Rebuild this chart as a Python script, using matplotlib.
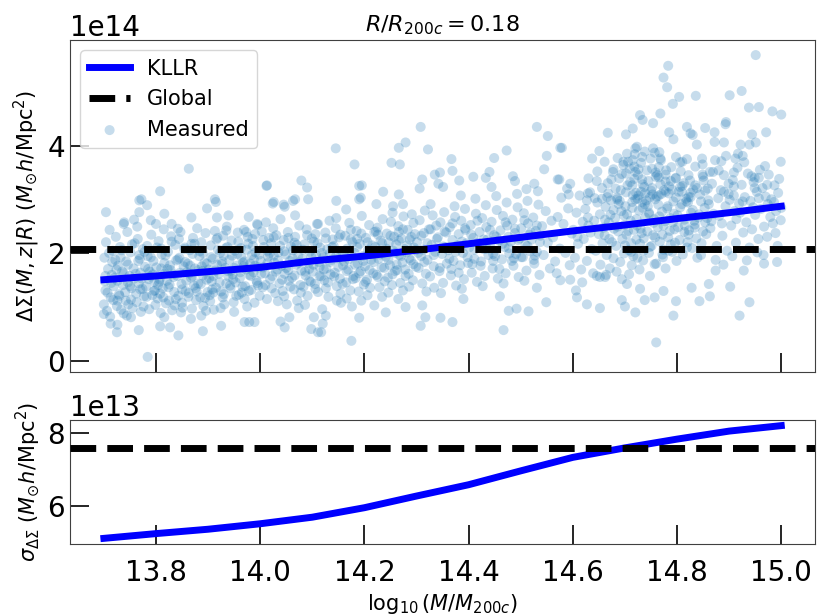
import numpy as np
import matplotlib.pyplot as plt
from matplotlib.ticker import MultipleLocator

# KLLR fit evaluated on the mass grid (Delta Sigma in 1e14, scatter in 1e13)
kllr_mass = [13.7, 13.8, 13.9, 14.0, 14.1, 14.2, 14.3, 14.4, 14.5, 14.6, 14.7, 14.8, 14.9, 15.0]
kllr_mean = [1.51, 1.58, 1.66, 1.74, 1.86, 1.95, 2.06, 2.18, 2.30, 2.42, 2.53, 2.65, 2.76, 2.88]
kllr_sigma = [5.12, 5.25, 5.37, 5.52, 5.70, 5.96, 6.28, 6.59, 6.97, 7.34, 7.60, 7.84, 8.06, 8.21]

# global (mass independent) mean and scatter
global_mean = 2.09
global_sigma = 7.61

# measured clusters: (log10 M, Delta Sigma / 1e14)
dsig_lowmass = [
    (13.700, 1.05), (13.702, 1.48), (13.701, 1.92), (13.704, 2.21), (13.703, 1.31), (13.706, 0.93), (13.708, 1.71),
    (13.711, 2.44), (13.713, 1.18), (13.715, 1.60), (13.717, 2.05), (13.712, 0.82), (13.719, 1.39), (13.716, 1.84),
    (13.721, 1.55), (13.723, 2.31), (13.725, 1.02), (13.727, 1.77), (13.729, 1.24), (13.731, 2.12), (13.733, 0.95),
    (13.735, 1.66), (13.737, 1.41), (13.739, 2.58), (13.732, 1.93), (13.726, 1.12), (13.738, 0.88), (13.724, 1.70),
    (13.741, 1.28), (13.743, 1.85), (13.745, 2.40), (13.747, 1.05), (13.749, 1.58), (13.751, 2.02), (13.753, 1.35),
    (13.755, 0.98), (13.757, 1.72), (13.759, 2.19), (13.746, 1.46), (13.752, 1.14), (13.758, 2.63), (13.744, 0.84),
    (13.761, 1.62), (13.763, 1.09), (13.765, 2.27), (13.767, 1.44), (13.769, 1.90), (13.771, 0.91), (13.773, 1.53),
    (13.775, 2.08), (13.777, 1.20), (13.779, 1.75), (13.764, 2.50), (13.770, 1.33), (13.776, 1.01), (13.768, 1.97),
    (13.781, 1.38), (13.783, 2.14), (13.785, 1.71), (13.787, 0.96), (13.789, 1.57), (13.791, 2.35), (13.793, 1.22),
    (13.795, 1.86), (13.797, 1.47), (13.799, 1.04), (13.784, 1.95), (13.790, 2.62), (13.796, 1.30), (13.788, 1.66),
    (13.801, 1.74), (13.803, 1.16), (13.805, 2.23), (13.807, 1.52), (13.809, 0.89), (13.811, 1.98), (13.813, 1.35),
    (13.815, 2.45), (13.817, 1.63), (13.819, 1.07), (13.804, 1.41), (13.810, 2.09), (13.816, 1.82), (13.808, 1.25),
    (13.821, 1.49), (13.823, 2.03), (13.825, 1.12), (13.827, 1.78), (13.829, 2.32), (13.831, 0.94), (13.833, 1.61),
    (13.835, 1.28), (13.837, 2.16), (13.839, 1.87), (13.824, 1.37), (13.830, 2.55), (13.836, 1.03), (13.828, 1.69),
    (13.841, 1.58), (13.843, 1.21), (13.845, 1.92), (13.847, 2.40), (13.849, 1.43), (13.851, 0.99), (13.853, 1.76),
    (13.855, 2.11), (13.857, 1.30), (13.859, 1.65), (13.844, 2.27), (13.850, 1.08), (13.856, 1.84), (13.848, 0.90),
    (13.861, 1.81), (13.863, 1.26), (13.865, 2.06), (13.867, 1.55), (13.869, 0.97), (13.871, 2.29), (13.873, 1.40),
    (13.875, 1.72), (13.877, 1.13), (13.879, 2.47), (13.864, 1.63), (13.870, 1.99), (13.876, 1.35), (13.868, 2.18),
    (13.881, 1.44), (13.883, 1.95), (13.885, 1.18), (13.887, 2.21), (13.889, 1.67), (13.891, 1.02), (13.893, 1.83),
    (13.895, 2.38), (13.897, 1.51), (13.899, 1.28), (13.884, 2.04), (13.890, 1.59), (13.896, 0.93), (13.888, 1.76),
    (13.901, 1.70), (13.903, 1.22), (13.905, 2.15), (13.907, 1.48), (13.909, 1.90), (13.911, 0.95), (13.913, 2.42),
    (13.915, 1.36), (13.917, 1.79), (13.919, 2.07), (13.904, 1.11), (13.910, 1.58), (13.916, 2.26), (13.908, 1.33),
    (13.921, 1.62), (13.923, 2.01), (13.925, 1.29), (13.927, 1.85), (13.929, 2.33), (13.931, 1.05), (13.933, 1.73),
    (13.935, 1.44), (13.937, 2.12), (13.939, 1.57), (13.924, 0.98), (13.930, 1.96), (13.936, 2.50), (13.928, 1.18),
    (13.941, 1.88), (13.943, 1.35), (13.945, 2.24), (13.947, 1.61), (13.949, 1.09), (13.951, 2.05), (13.953, 1.46),
    (13.955, 1.77), (13.957, 2.39), (13.959, 1.23), (13.944, 1.68), (13.950, 0.91), (13.956, 1.99), (13.948, 1.52),
    (13.961, 1.54), (13.963, 2.10), (13.965, 1.27), (13.967, 1.83), (13.969, 2.44), (13.971, 1.39), (13.973, 1.70),
    (13.975, 1.01), (13.977, 2.18), (13.979, 1.60), (13.964, 1.93), (13.970, 1.15), (13.976, 2.31), (13.968, 1.76),
    (13.981, 1.81), (13.983, 1.32), (13.985, 2.27), (13.987, 1.65), (13.989, 1.08), (13.991, 2.02), (13.993, 1.49),
    (13.995, 2.53), (13.997, 1.74), (13.999, 1.21), (13.984, 1.97), (13.990, 2.36), (13.996, 1.40), (13.988, 1.89),
]

dsig_midmass = [
    (14.001, 1.86), (14.003, 2.41), (14.005, 1.37), (14.007, 2.12), (14.009, 1.63), (14.011, 2.58), (14.013, 1.15),
    (14.015, 1.94), (14.017, 2.29), (14.019, 1.52), (14.006, 1.74), (14.014, 2.05),
    (14.021, 2.19), (14.023, 1.58), (14.025, 2.47), (14.027, 1.83), (14.029, 1.26), (14.031, 2.34), (14.033, 1.70),
    (14.035, 2.02), (14.037, 1.44), (14.039, 2.64), (14.026, 1.96), (14.034, 1.11),
    (14.041, 1.77), (14.043, 1.30), (14.045, 2.25), (14.047, 1.62), (14.049, 1.98), (14.051, 1.05), (14.053, 2.40),
    (14.055, 1.49), (14.057, 1.86), (14.059, 2.13), (14.046, 1.20), (14.054, 1.69),
    (14.061, 1.55), (14.063, 2.06), (14.065, 1.33), (14.067, 2.31), (14.069, 1.79), (14.071, 1.12), (14.073, 1.95),
    (14.075, 2.52), (14.077, 1.41), (14.079, 1.68), (14.066, 2.20), (14.074, 0.98),
    (14.081, 1.90), (14.083, 1.38), (14.085, 2.17), (14.087, 1.59), (14.089, 2.45), (14.091, 1.21), (14.093, 1.82),
    (14.095, 2.03), (14.097, 1.47), (14.099, 2.28), (14.086, 1.04), (14.094, 1.71),
    (14.101, 1.66), (14.103, 2.22), (14.105, 1.43), (14.107, 1.97), (14.109, 2.55), (14.111, 1.28), (14.113, 1.84),
    (14.115, 2.11), (14.117, 1.57), (14.119, 0.96), (14.106, 2.36), (14.114, 1.75),
    (14.121, 1.93), (14.123, 1.50), (14.125, 2.39), (14.127, 1.72), (14.129, 2.08), (14.131, 1.19), (14.133, 2.61),
    (14.135, 1.61), (14.137, 1.88), (14.139, 2.26), (14.126, 1.35), (14.134, 2.00),
    (14.141, 2.14), (14.143, 1.64), (14.145, 2.47), (14.147, 1.39), (14.149, 1.91), (14.151, 2.30), (14.153, 1.53),
    (14.155, 1.08), (14.157, 2.04), (14.159, 1.78), (14.146, 2.66), (14.154, 1.25),
    (14.161, 1.85), (14.163, 2.33), (14.165, 1.46), (14.167, 2.09), (14.169, 1.70), (14.171, 2.57), (14.173, 1.31),
    (14.175, 1.97), (14.177, 2.21), (14.179, 1.58), (14.166, 1.16), (14.174, 2.44),
    (14.181, 2.01), (14.183, 1.54), (14.185, 2.42), (14.187, 1.81), (14.189, 1.29), (14.191, 2.18), (14.193, 1.67),
    (14.195, 2.70), (14.197, 1.95), (14.199, 1.42), (14.186, 2.27), (14.194, 1.12),
    (14.201, 1.76), (14.203, 2.29), (14.205, 1.51), (14.207, 2.06), (14.209, 2.53), (14.211, 1.36), (14.213, 1.88),
    (14.215, 2.15), (14.217, 1.63), (14.219, 2.40), (14.206, 1.22), (14.214, 1.99),
    (14.221, 2.12), (14.223, 1.60), (14.225, 2.48), (14.227, 1.90), (14.229, 1.37), (14.231, 2.24), (14.233, 1.74),
    (14.235, 2.64), (14.237, 2.01), (14.239, 1.48), (14.226, 2.35), (14.234, 1.19),
    (14.241, 1.94), (14.243, 2.37), (14.245, 1.55), (14.247, 2.20), (14.249, 1.78), (14.251, 2.59), (14.253, 1.41),
    (14.255, 2.05), (14.257, 2.31), (14.259, 1.67), (14.246, 1.27), (14.254, 2.76),
    (14.261, 2.17), (14.263, 1.69), (14.265, 2.51), (14.267, 1.97), (14.269, 1.45), (14.271, 2.28), (14.273, 1.83),
    (14.275, 2.69), (14.277, 2.08), (14.279, 1.58), (14.266, 2.40), (14.274, 1.31),
    (14.281, 2.02), (14.283, 2.44), (14.285, 1.62), (14.287, 2.26), (14.289, 1.87), (14.291, 2.73), (14.293, 1.50),
    (14.295, 2.11), (14.297, 2.36), (14.299, 1.75), (14.286, 1.38), (14.294, 2.57),
]

# second pass over the crowded band below the global mean
dsig_band = [
    (13.703, 1.58), (13.707, 1.27), (13.710, 2.01), (13.714, 1.45), (13.718, 1.13), (13.722, 1.88), (13.726, 1.49),
    (13.730, 1.21), (13.734, 2.06), (13.738, 1.63), (13.742, 1.12), (13.746, 1.79), (13.750, 1.39), (13.754, 2.17),
    (13.758, 1.53), (13.762, 1.25), (13.766, 1.86), (13.770, 1.64), (13.774, 1.34), (13.778, 2.03), (13.782, 1.19),
    (13.786, 1.52), (13.790, 1.93), (13.794, 1.61), (13.798, 1.31), (13.802, 2.11), (13.806, 1.47), (13.810, 1.72),
    (13.814, 1.18), (13.818, 1.96), (13.822, 1.71), (13.826, 1.42), (13.830, 2.22), (13.834, 1.56), (13.838, 1.15),
    (13.842, 1.89), (13.846, 1.64), (13.850, 1.33), (13.854, 2.08), (13.858, 1.49), (13.862, 1.19), (13.866, 1.77),
    (13.870, 1.58), (13.874, 2.18), (13.878, 1.29), (13.882, 1.69), (13.886, 1.43), (13.890, 2.01), (13.894, 1.17),
    (13.898, 1.81), (13.902, 1.54), (13.906, 1.93), (13.910, 1.27), (13.914, 1.68), (13.918, 2.29), (13.922, 1.46),
    (13.926, 1.80), (13.930, 1.24), (13.934, 2.10), (13.938, 1.67), (13.942, 1.40), (13.946, 1.96), (13.950, 1.73),
    (13.954, 1.21), (13.958, 2.22), (13.962, 1.65), (13.966, 1.38), (13.970, 1.85), (13.974, 2.07), (13.978, 1.30),
    (13.982, 1.58), (13.986, 2.14), (13.990, 1.77), (13.994, 1.45), (13.998, 1.98), (14.002, 1.62), (14.006, 2.25),
    (14.010, 1.41), (14.014, 1.82), (14.018, 2.00), (14.022, 1.35), (14.026, 2.30), (14.030, 1.66), (14.034, 1.87),
    (14.038, 2.14), (14.042, 1.51), (14.046, 2.04), (14.050, 1.73), (14.054, 2.29), (14.058, 1.38), (14.062, 1.91),
    (14.066, 1.59), (14.070, 2.16), (14.074, 1.83), (14.078, 1.27), (14.082, 2.07), (14.086, 1.66), (14.090, 2.34),
    (14.094, 1.49), (14.098, 1.94), (14.102, 1.79), (14.106, 1.34), (14.110, 2.19), (14.114, 1.58), (14.118, 2.01),
    (14.122, 1.70), (14.126, 2.28), (14.130, 1.46), (14.134, 1.84), (14.138, 2.12), (14.142, 1.57), (14.146, 1.96),
    (14.150, 1.75), (14.154, 2.35), (14.158, 1.43), (14.162, 2.05), (14.166, 1.67), (14.170, 1.89), (14.174, 2.26),
    (14.178, 1.52), (14.182, 1.79), (14.186, 2.12), (14.190, 1.63), (14.194, 2.37), (14.198, 1.86), (14.202, 1.47),
    (14.206, 2.21), (14.210, 1.69), (14.214, 2.02), (14.218, 1.84), (14.222, 2.41), (14.226, 1.56), (14.230, 1.98),
    (14.234, 2.19), (14.238, 1.73), (14.242, 2.09), (14.246, 1.88), (14.250, 2.33), (14.254, 1.61), (14.258, 2.01),
    (14.262, 1.79), (14.266, 2.24), (14.270, 1.95), (14.274, 2.45), (14.278, 1.70), (14.282, 2.15), (14.286, 1.91),
    (14.290, 2.31), (14.294, 1.80), (14.298, 2.06),
    (14.303, 2.01), (14.309, 2.33), (14.315, 1.84), (14.321, 2.19), (14.327, 2.45), (14.333, 1.97), (14.339, 2.27),
    (14.345, 1.73), (14.351, 2.13), (14.357, 2.39), (14.363, 1.90), (14.369, 2.56), (14.375, 2.03), (14.381, 1.64),
    (14.387, 2.22), (14.393, 2.47), (14.399, 1.82), (14.405, 2.35), (14.411, 2.07), (14.417, 2.61), (14.423, 1.77),
    (14.429, 2.26), (14.435, 2.09), (14.441, 2.44), (14.447, 1.99), (14.453, 2.31), (14.459, 1.71), (14.465, 2.18),
    (14.471, 2.58), (14.477, 2.10), (14.483, 1.86), (14.489, 2.46), (14.495, 2.25), (14.501, 1.93), (14.507, 2.62),
    (14.513, 2.14), (14.519, 2.39), (14.525, 1.88), (14.531, 2.52), (14.537, 2.21),
]

dsig_highmass = [
    (14.301, 2.21), (14.304, 1.73), (14.306, 2.62), (14.309, 1.95), (14.311, 1.44), (14.314, 2.38), (14.316, 2.80),
    (14.318, 1.62), (14.313, 2.07), (14.319, 1.29),
    (14.321, 1.88), (14.324, 2.45), (14.326, 1.57), (14.329, 2.16), (14.331, 2.71), (14.334, 1.36), (14.336, 2.03),
    (14.338, 2.52), (14.333, 1.76), (14.327, 2.92),
    (14.341, 2.30), (14.344, 1.67), (14.346, 2.58), (14.349, 1.99), (14.351, 1.45), (14.354, 2.41), (14.356, 2.12),
    (14.358, 1.81), (14.353, 2.77), (14.347, 1.26),
    (14.361, 2.06), (14.364, 2.49), (14.366, 1.59), (14.369, 2.25), (14.371, 1.86), (14.374, 2.68), (14.376, 1.40),
    (14.378, 2.15), (14.373, 2.88), (14.367, 1.71),
    (14.381, 2.36), (14.384, 1.78), (14.386, 2.61), (14.389, 2.01), (14.391, 1.52), (14.394, 2.44), (14.396, 2.19),
    (14.398, 1.93), (14.393, 2.83), (14.387, 1.34),
    (14.401, 2.11), (14.404, 2.53), (14.406, 1.64), (14.409, 2.29), (14.411, 1.90), (14.414, 2.74), (14.416, 1.47),
    (14.418, 2.20), (14.413, 3.02), (14.407, 1.80),
    (14.421, 2.40), (14.424, 1.85), (14.426, 2.66), (14.429, 2.08), (14.431, 1.58), (14.434, 2.49), (14.436, 2.26),
    (14.438, 1.97), (14.433, 2.90), (14.427, 1.39),
    (14.441, 2.17), (14.444, 2.59), (14.446, 1.72), (14.449, 2.34), (14.451, 1.95), (14.454, 2.81), (14.456, 1.53),
    (14.458, 2.24), (14.453, 3.07), (14.447, 1.86),
    (14.461, 2.43), (14.464, 1.89), (14.466, 2.70), (14.469, 2.12), (14.471, 1.63), (14.474, 2.52), (14.476, 2.31),
    (14.478, 2.00), (14.473, 2.95), (14.467, 1.44),
    (14.481, 2.22), (14.484, 2.63), (14.486, 1.77), (14.489, 2.38), (14.491, 1.99), (14.494, 2.86), (14.496, 1.56),
    (14.498, 2.28), (14.493, 3.11), (14.487, 1.91),
    (14.501, 2.47), (14.504, 1.93), (14.506, 2.75), (14.509, 2.16), (14.511, 1.68), (14.514, 2.56), (14.516, 2.35),
    (14.518, 2.04), (14.513, 2.98), (14.507, 1.49),
    (14.521, 2.26), (14.524, 2.67), (14.526, 1.81), (14.529, 2.42), (14.531, 2.03), (14.534, 2.91), (14.536, 1.60),
    (14.538, 2.33), (14.533, 3.16), (14.527, 1.96),
    (14.541, 2.51), (14.544, 1.97), (14.548, 2.79), (14.552, 2.20), (14.556, 1.72), (14.559, 2.61),
    (14.562, 2.30), (14.566, 1.85), (14.571, 2.68), (14.575, 2.09), (14.578, 3.04), (14.569, 1.63),
    (14.582, 2.55), (14.586, 2.01), (14.591, 2.84), (14.594, 1.78), (14.598, 2.37), (14.589, 3.21),
]

dsig_topmass = [
    (14.601, 2.44), (14.604, 1.92), (14.607, 2.76), (14.610, 2.18), (14.613, 3.08), (14.616, 1.70), (14.619, 2.59),
    (14.609, 2.31),
    (14.621, 2.27), (14.624, 2.83), (14.627, 1.86), (14.630, 2.52), (14.633, 3.14), (14.636, 2.08), (14.639, 1.63),
    (14.629, 2.67), (14.634, 2.39),
    (14.641, 2.61), (14.644, 2.05), (14.647, 2.95), (14.650, 2.36), (14.653, 1.79), (14.656, 3.22), (14.659, 2.48),
    (14.646, 1.58), (14.652, 2.73), (14.657, 2.19),
    (14.661, 2.34), (14.663, 2.87), (14.665, 1.97), (14.667, 3.31), (14.669, 2.58), (14.671, 1.72), (14.673, 2.99),
    (14.675, 2.21), (14.677, 3.52), (14.679, 2.46), (14.664, 1.60), (14.672, 2.72), (14.678, 1.91), (14.668, 3.12),
    (14.681, 2.66), (14.683, 2.14), (14.685, 3.04), (14.687, 2.41), (14.689, 3.40), (14.691, 1.84), (14.693, 2.79),
    (14.695, 2.27), (14.697, 3.65), (14.699, 2.53), (14.684, 1.66), (14.692, 3.18), (14.698, 2.00), (14.688, 2.92),
    (14.694, 1.52), (14.686, 3.78),
    (14.701, 2.88), (14.703, 2.35), (14.705, 3.27), (14.707, 2.06), (14.709, 3.58), (14.711, 2.61), (14.713, 1.78),
    (14.715, 3.09), (14.717, 2.44), (14.719, 3.85), (14.704, 2.73), (14.712, 2.19), (14.718, 3.39), (14.708, 1.61),
    (14.714, 2.96), (14.706, 3.71), (14.716, 1.95),
    (14.721, 3.13), (14.723, 2.52), (14.725, 3.46), (14.727, 2.80), (14.729, 2.18), (14.731, 3.69), (14.733, 2.96),
    (14.735, 1.87), (14.737, 3.24), (14.739, 2.67), (14.724, 3.02), (14.732, 2.38), (14.738, 3.90), (14.728, 1.70),
    (14.734, 2.85), (14.726, 3.57), (14.736, 2.05), (14.722, 2.26),
    (14.741, 2.99), (14.743, 2.41), (14.745, 3.35), (14.747, 2.73), (14.749, 3.77), (14.751, 2.14), (14.753, 3.10),
    (14.755, 2.57), (14.757, 1.80), (14.759, 3.51), (14.744, 2.88), (14.752, 3.22), (14.758, 2.30), (14.748, 1.58),
    (14.754, 3.96), (14.746, 2.01), (14.756, 2.64),
    (14.761, 3.06), (14.763, 2.49), (14.765, 3.42), (14.767, 2.22), (14.769, 3.74), (14.771, 2.78), (14.773, 1.93),
    (14.775, 3.18), (14.777, 2.60), (14.779, 3.55), (14.764, 2.91), (14.772, 2.35), (14.778, 1.72), (14.768, 3.29),
    (14.774, 2.07), (14.766, 3.89),
    (14.781, 2.84), (14.783, 2.30), (14.785, 3.25), (14.787, 2.66), (14.789, 3.61), (14.791, 2.03), (14.793, 2.97),
    (14.795, 2.45), (14.797, 3.40), (14.799, 1.86), (14.784, 3.12), (14.792, 2.58), (14.798, 3.80), (14.788, 2.17),
    (14.801, 2.71), (14.803, 3.15), (14.805, 2.25), (14.807, 3.53), (14.809, 2.92), (14.811, 1.98), (14.813, 3.31),
    (14.815, 2.52), (14.817, 3.02), (14.819, 2.11), (14.806, 3.70), (14.814, 2.40),
    (14.821, 2.95), (14.823, 2.43), (14.825, 3.36), (14.827, 2.76), (14.829, 2.10), (14.831, 3.19), (14.833, 2.61),
    (14.835, 3.62), (14.837, 2.28), (14.839, 1.92), (14.826, 3.05), (14.834, 2.54),
    (14.841, 2.67), (14.844, 3.10), (14.847, 2.19), (14.850, 3.43), (14.853, 2.85), (14.856, 2.36), (14.859, 3.21),
    (14.846, 1.97), (14.854, 2.58), (14.849, 3.66),
    (14.861, 2.92), (14.864, 2.47), (14.867, 3.30), (14.870, 2.74), (14.873, 3.74), (14.876, 2.14), (14.879, 3.03),
    (14.866, 2.60), (14.874, 1.88), (14.869, 3.52),
    (14.881, 2.70), (14.884, 3.18), (14.887, 2.33), (14.890, 3.46), (14.893, 2.88), (14.896, 2.05), (14.899, 3.11),
    (14.886, 2.56), (14.894, 3.82), (14.889, 1.79),
    (14.901, 3.00), (14.904, 2.52), (14.907, 3.37), (14.910, 2.79), (14.913, 2.20), (14.916, 3.60), (14.919, 2.93),
    (14.906, 1.95), (14.914, 2.64), (14.909, 3.25),
    (14.921, 2.76), (14.924, 3.28), (14.927, 2.39), (14.930, 3.05), (14.933, 2.58), (14.936, 3.49), (14.939, 2.11),
    (14.926, 2.97), (14.934, 1.87), (14.929, 3.70),
    (14.941, 2.98), (14.944, 2.45), (14.947, 3.33), (14.950, 2.72), (14.953, 3.15), (14.956, 2.27), (14.959, 3.56),
    (14.946, 2.86), (14.954, 2.02), (14.949, 3.41),
    (14.961, 2.83), (14.964, 3.22), (14.967, 2.50), (14.970, 3.06), (14.973, 2.31), (14.976, 3.47), (14.979, 2.68),
    (14.966, 1.97), (14.974, 2.92), (14.969, 3.63),
    (14.981, 3.01), (14.984, 2.56), (14.987, 3.27), (14.990, 2.79), (14.993, 2.14), (14.996, 3.39), (14.999, 2.62),
    (14.986, 2.96), (14.994, 3.13), (14.989, 2.38), (15.000, 2.85),
]

# the crowded high mass clump
dsig_clump = [
    (14.662, 2.63), (14.666, 3.05), (14.670, 2.27), (14.674, 3.38), (14.678, 2.81), (14.682, 3.21), (14.686, 2.50),
    (14.690, 2.98), (14.694, 3.48), (14.698, 2.71), (14.702, 3.14), (14.706, 2.42), (14.710, 3.33), (14.714, 2.85),
    (14.718, 3.62), (14.722, 2.64), (14.726, 3.08), (14.730, 2.46), (14.734, 3.29), (14.738, 2.92), (14.742, 3.55),
    (14.746, 2.76), (14.750, 3.17), (14.754, 2.34), (14.758, 3.01), (14.762, 3.46), (14.766, 2.69), (14.770, 3.11),
    (14.774, 2.52), (14.778, 3.34), (14.782, 2.88), (14.786, 2.42), (14.790, 3.19), (14.794, 2.74), (14.798, 3.04),
    (14.802, 2.49), (14.806, 2.86), (14.810, 3.26), (14.814, 2.63), (14.818, 2.97), (14.822, 2.35), (14.826, 3.13),
    (14.830, 2.81), (14.834, 2.48), (14.838, 3.22), (14.842, 2.73), (14.846, 2.97), (14.850, 2.41), (14.854, 3.17),
    (14.858, 2.66), (14.724, 1.92), (14.748, 2.12), (14.772, 1.98), (14.796, 2.20), (14.712, 2.03), (14.760, 1.81),
    (14.784, 2.05), (14.736, 2.28), (14.700, 2.15), (14.820, 2.21),
]

# isolated clusters away from the bulk
dsig_outliers = [
    (13.863, 3.58), (13.808, 3.16), (13.772, 3.01), (13.913, 3.01), (14.013, 3.27), (14.079, 3.36), (14.090, 3.23),
    (14.067, 3.01), (14.026, 2.96), (14.045, 2.91), (13.768, 2.99), (14.012, 3.26), (14.092, 3.01), (14.063, 2.98),
    (14.308, 4.36), (14.145, 3.96), (14.279, 4.07), (14.266, 3.97), (14.322, 3.94), (14.181, 3.66), (14.252, 3.69),
    (14.268, 3.66), (14.531, 4.36), (14.552, 4.19), (14.550, 3.82), (14.576, 3.97), (14.473, 3.92), (14.449, 3.78),
    (14.367, 3.76), (14.369, 3.54), (14.195, 3.27), (14.236, 3.15), (14.335, 3.47), (14.345, 3.51), (14.311, 3.38),
    (14.545, 3.57), (14.571, 3.38), (14.526, 3.30), (14.409, 3.43), (14.440, 3.52), (14.433, 3.41), (14.485, 3.44),
    (14.489, 3.35), (14.382, 3.36), (14.444, 3.24), (14.385, 3.08), (14.266, 3.10), (14.306, 3.21), (14.342, 3.30),
    (14.351, 3.24), (14.511, 3.20), (14.190, 3.01), (14.190, 3.26), (14.193, 3.04), (14.223, 2.92), (14.255, 2.88),
    (14.274, 2.92), (14.165, 2.82), (14.146, 2.98),
    (14.951, 5.70), (14.783, 5.50), (14.774, 5.28), (14.781, 5.10), (14.804, 4.92), (14.792, 4.79), (14.836, 4.94),
    (14.901, 4.95), (14.924, 5.03), (14.938, 4.72), (14.957, 4.73), (14.983, 4.65), (15.000, 4.59), (14.768, 4.61),
    (14.729, 4.58), (14.734, 4.49), (14.754, 4.43), (14.894, 4.45), (14.893, 4.41), (14.667, 4.25), (14.715, 4.33),
    (14.702, 4.22), (14.785, 4.26), (14.793, 4.13), (14.819, 4.36), (14.826, 4.24), (14.830, 4.21), (14.854, 4.34),
    (14.872, 4.26), (14.872, 4.08), (14.838, 4.03), (14.890, 4.07), (14.944, 4.22), (14.971, 4.26), (14.939, 4.03),
    (14.951, 4.07), (14.922, 4.03), (14.579, 3.97), (14.651, 3.91), (14.637, 3.77), (14.661, 3.71), (14.723, 3.99),
    (14.720, 3.96), (14.704, 3.86), (14.757, 3.88), (14.768, 3.77), (14.697, 3.71), (14.715, 3.74), (14.733, 3.80),
    (14.819, 3.76), (14.810, 3.71), (14.848, 3.77), (14.885, 3.72), (14.912, 3.77), (14.917, 3.86), (14.926, 3.82),
    (14.999, 3.71), (14.678, 3.57), (14.647, 3.53), (14.702, 3.49), (14.720, 3.52), (14.752, 3.58), (14.765, 3.61),
    (14.574, 3.38), (14.630, 3.40), (14.646, 3.35), (14.595, 3.30), (14.629, 3.12), (14.592, 3.10), (14.642, 3.03),
    (14.685, 3.01), (14.714, 3.27), (14.733, 3.38), (14.759, 3.43), (14.778, 3.47), (14.788, 3.35), (14.798, 3.41),
    (14.822, 3.46), (14.849, 3.47), (14.863, 3.52), (14.880, 3.55), (14.909, 3.51), (14.943, 3.44), (14.957, 3.41),
    (14.973, 3.28), (14.899, 3.30), (14.851, 3.36), (14.835, 3.27), (14.806, 3.24), (14.731, 3.15), (14.739, 3.12),
    (14.748, 3.05), (14.720, 3.01), (14.765, 3.08), (14.778, 3.15), (14.809, 3.15), (14.822, 3.05), (14.860, 2.99),
    (14.890, 3.15), (14.909, 3.08), (14.949, 3.22), (14.957, 3.03), (14.627, 2.99), (14.656, 3.02),
    (13.704, 2.77), (13.768, 2.77), (13.783, 2.90), (13.816, 2.74), (13.868, 2.67), (13.898, 2.84), (13.915, 2.96),
    (13.917, 2.67), (13.939, 2.71), (13.978, 2.68), (13.994, 2.55), (14.024, 2.93), (14.047, 2.87), (14.067, 2.71),
    (14.111, 2.55), (13.800, 2.55), (13.738, 2.55), (13.842, 2.46), (13.973, 2.40), (13.935, 2.43),
    (13.784, 0.07), (13.843, 0.47), (13.725, 0.53), (13.767, 0.57), (13.808, 0.64), (13.827, 0.62), (13.890, 0.55),
    (13.925, 0.65), (13.970, 0.72), (13.979, 0.72), (13.989, 0.72), (13.713, 0.69), (13.700, 0.87), (13.887, 0.84),
    (13.867, 0.78), (14.047, 0.62), (14.098, 0.59), (14.111, 0.53), (14.039, 0.73), (14.056, 0.81), (14.103, 0.81),
    (13.816, 0.81), (13.752, 0.81), (13.726, 0.67),
    (14.175, 0.37), (14.190, 0.80), (14.120, 0.69), (14.117, 0.53), (14.126, 0.84), (14.176, 1.01), (14.241, 0.90),
    (14.279, 1.00), (14.308, 0.65), (14.317, 0.81), (14.346, 0.80), (14.369, 0.72), (14.265, 1.15), (14.311, 1.03),
    (14.390, 1.15), (14.460, 1.20), (14.467, 0.57), (14.477, 0.93), (14.492, 0.97), (14.515, 0.92), (14.549, 1.09),
    (14.531, 1.36), (14.219, 1.03), (14.147, 1.12),
    (14.760, 0.34), (14.720, 0.90), (14.793, 0.84), (14.920, 0.84), (14.939, 1.09), (14.652, 0.98), (14.627, 1.05),
    (14.608, 1.18), (14.694, 1.13), (14.700, 1.01), (14.738, 1.13), (14.757, 1.18), (14.798, 1.11), (14.843, 1.11),
    (14.863, 1.20), (14.902, 1.38), (14.992, 1.84), (14.967, 1.81), (14.928, 1.68), (14.576, 1.50), (14.595, 1.51),
    (14.618, 1.46), (14.652, 1.56), (14.662, 1.56), (14.606, 1.31), (14.704, 1.43), (14.729, 1.34), (14.774, 1.30),
    (14.828, 1.36), (14.874, 1.68), (14.861, 1.43),
]

measured = np.array(dsig_lowmass + dsig_midmass + dsig_band + dsig_highmass
                    + dsig_topmass + dsig_clump + dsig_outliers)

fig = plt.figure(figsize=(8.17, 6.16), dpi=100)
ax1 = fig.add_axes([0.0857, 0.3961, 0.912, 0.539])
ax2 = fig.add_axes([0.0857, 0.1169, 0.912, 0.2013], sharex=ax1)

ax1.plot(kllr_mass, np.array(kllr_mean) * 1e14, color='blue', lw=5, label='KLLR', zorder=3)
ax1.axhline(global_mean * 1e14, color='black', lw=5, ls='--', label='Global', zorder=4)
ax1.scatter(measured[:, 0], measured[:, 1] * 1e14, s=52, color='tab:blue', alpha=0.25,
            edgecolors='none', label='Measured', zorder=1)
ax1.set_ylabel(r'$\Delta\Sigma(M, z|R)\ (M_{\odot}h/{\rm Mpc}^2)$', fontsize=15)
ax1.set_title(r'$R/R_{200c} = 0.18$', fontsize=16)
ax1.legend(loc='upper left', fontsize=15)
ax1.yaxis.set_major_locator(MultipleLocator(2e14))

ax2.plot(kllr_mass, np.array(kllr_sigma) * 1e13, color='blue', lw=5, zorder=3)
ax2.axhline(global_sigma * 1e13, color='black', lw=5, ls='--', zorder=4)
ax2.set_ylabel(r'$\sigma_{\Delta\Sigma}\ (M_{\odot}h/{\rm Mpc}^2)$', fontsize=15)
ax2.set_xlabel(r'$\log_{10}(M/M_{200c})$', fontsize=15)
ax2.yaxis.set_major_locator(MultipleLocator(2e13))

for ax in (ax1, ax2):
    ax.tick_params(direction='in', length=14, width=1.2, labelsize=20)
    ax.tick_params(axis='x', pad=10.5)
    ax.yaxis.get_offset_text().set_fontsize(20)
    for sp in ax.spines.values():
        sp.set_color('0.25')
ax1.tick_params(labelbottom=False)

plt.savefig('out.png', dpi=100)
